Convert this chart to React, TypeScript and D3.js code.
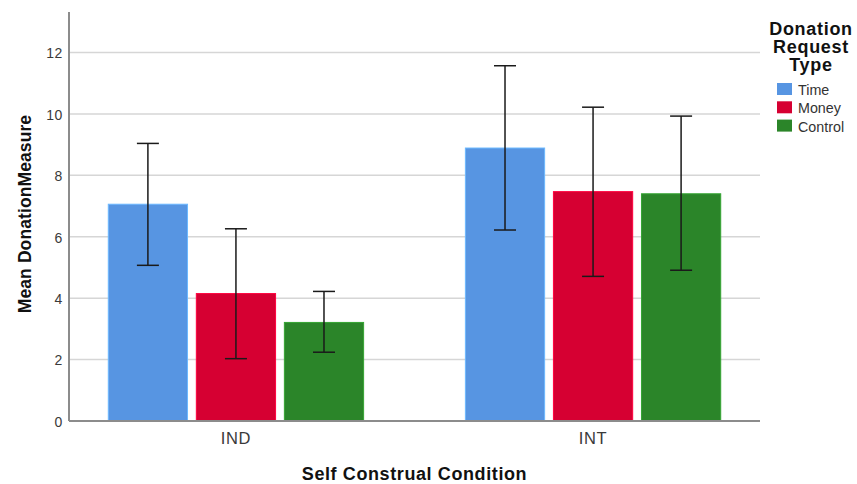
import React, { useEffect, useRef } from 'react';
import * as d3 from 'd3';

const conditions = ['IND', 'INT'];
const requestTypes = ['Time', 'Money', 'Control'];
const typeColors = ['#5795e2', '#d60032', '#2b8529'];
// mean values per condition, in requestTypes order
const meanValues = [
  [7.06, 4.15, 3.21],
  [8.89, 7.47, 7.40],
];
const errLow = [
  [5.07, 2.03, 2.24],
  [6.22, 4.71, 4.91],
];
const errHigh = [
  [9.04, 6.26, 4.22],
  [11.57, 10.22, 9.93],
];
const yTicks = [0, 2, 4, 6, 8, 10, 12];

const FONT = '"Liberation Sans", Arial, sans-serif';

export default function App() {
  const ref = useRef<SVGSVGElement | null>(null);

  useEffect(() => {
    document.body.style.margin = '0';
    if (!ref.current) return;
    const width = 857;
    const height = 484;
    const margin = { top: 12, right: 97, bottom: 63, left: 69 };
    const innerWidth = width - margin.left - margin.right;
    const innerHeight = height - margin.top - margin.bottom;

    const svg = d3.select(ref.current);
    svg.selectAll('*').remove();
    svg.attr('viewBox', `0 0 ${width} ${height}`);
    svg.append('rect').attr('width', width).attr('height', height).attr('fill', '#fff');

    const g = svg.append('g').attr('transform', `translate(${margin.left},${margin.top})`);

    const y = d3.scaleLinear().domain([0, 13.32]).range([innerHeight, 0]);
    const x0 = d3.scaleBand<string>()
      .domain(conditions)
      .range([0, innerWidth])
      .paddingInner(0.285)
      .paddingOuter(0.11);
    const x1 = d3.scaleBand<string>()
      .domain(requestTypes)
      .range([0, x0.bandwidth()])
      .paddingInner(0.1)
      .paddingOuter(0);

    // grid lines
    g.selectAll('.grid-line')
      .data(yTicks.filter(t => t > 0))
      .enter()
      .append('line')
      .attr('x1', 0)
      .attr('x2', innerWidth)
      .attr('y1', d => y(d))
      .attr('y2', d => y(d))
      .attr('stroke', '#d6d6d6')
      .attr('stroke-width', 1.5);

    // bars + error bars
    const groups = g.selectAll('.group')
      .data(conditions)
      .enter()
      .append('g')
      .attr('transform', d => `translate(${x0(d)},0)`);

    groups.each(function (cond, ci) {
      const grp = d3.select(this);
      requestTypes.forEach((t, ti) => {
        const v = meanValues[ci][ti];
        const bx = x1(t)!;
        const bw = x1.bandwidth();
        grp.append('rect')
          .attr('x', bx)
          .attr('y', y(v))
          .attr('width', bw)
          .attr('height', y(0) - y(v))
          .attr('fill', typeColors[ti])
          .attr('stroke', d3.color(typeColors[ti])!.brighter(0.6).toString())
          .attr('stroke-width', 1);
        const cx = bx + bw / 2;
        const lo = y(errLow[ci][ti]);
        const hi = y(errHigh[ci][ti]);
        const cap = 11;
        grp.append('line').attr('x1', cx).attr('x2', cx).attr('y1', lo).attr('y2', hi)
          .attr('stroke', '#1a1a1a').attr('stroke-width', 1.5);
        grp.append('line').attr('x1', cx - cap).attr('x2', cx + cap).attr('y1', lo).attr('y2', lo)
          .attr('stroke', '#1a1a1a').attr('stroke-width', 1.5);
        grp.append('line').attr('x1', cx - cap).attr('x2', cx + cap).attr('y1', hi).attr('y2', hi)
          .attr('stroke', '#1a1a1a').attr('stroke-width', 1.5);
      });
    });

    // axes
    g.append('line')
      .attr('x1', 0).attr('x2', 0).attr('y1', 0).attr('y2', innerHeight)
      .attr('stroke', '#8c8c8c').attr('stroke-width', 2);
    g.append('line')
      .attr('x1', 0).attr('x2', innerWidth).attr('y1', innerHeight).attr('y2', innerHeight)
      .attr('stroke', '#8c8c8c').attr('stroke-width', 2);

    g.selectAll('.ytick')
      .data(yTicks)
      .enter()
      .append('text')
      .attr('x', -6)
      .attr('y', d => y(d))
      .attr('dy', '0.42em')
      .attr('text-anchor', 'end')
      .attr('font-family', FONT)
      .attr('font-size', 14)
      .attr('letter-spacing', 0.6)
      .attr('fill', '#3a3a3a')
      .text(d => d);

    g.selectAll('.xtick')
      .data(conditions)
      .enter()
      .append('text')
      .attr('x', d => x0(d)! + x0.bandwidth() / 2)
      .attr('y', innerHeight + 23)
      .attr('text-anchor', 'middle')
      .attr('font-family', FONT)
      .attr('font-size', 16.5)
      .attr('letter-spacing', 0.6)
      .attr('fill', '#3a3a3a')
      .text(d => d);

    g.append('text')
      .attr('x', innerWidth / 2)
      .attr('y', innerHeight + 58.5)
      .attr('text-anchor', 'middle')
      .attr('font-family', FONT)
      .attr('font-size', 18)
      .attr('letter-spacing', 0.6)
      .attr('font-weight', 'bold')
      .attr('fill', '#111')
      .text('Self Construal Condition');

    svg.append('text')
      .attr('transform', `translate(31,214) rotate(-90)`)
      .attr('text-anchor', 'middle')
      .attr('font-family', FONT)
      .attr('font-size', 17.5)
      .attr('letter-spacing', 0.1)
      .attr('font-weight', 'bold')
      .attr('fill', '#111')
      .text('Mean DonationMeasure');

    // legend
    const legend = svg.append('g');
    ['Donation', 'Request', 'Type'].forEach((line, i) => {
      legend.append('text')
        .attr('x', 811)
        .attr('y', 34.5 + i * 18.2)
        .attr('text-anchor', 'middle')
        .attr('font-family', FONT)
        .attr('font-size', 18)
        .attr('letter-spacing', 0.7)
        .attr('font-weight', 'bold')
        .attr('fill', '#111')
        .text(line);
    });
    const item = legend.selectAll('.legend-item')
      .data(requestTypes)
      .enter()
      .append('g')
      .attr('transform', (_, i) => `translate(777,${83 + i * 18.3})`);
    item.append('rect')
      .attr('width', 15)
      .attr('height', 12)
      .attr('fill', (_, i) => typeColors[i]);
    item.append('text')
      .attr('x', 21)
      .attr('y', 12)
      .attr('font-family', FONT)
      .attr('font-size', 14.3)
      .attr('fill', '#333')
      .text(d => d);
  }, []);

  return <svg ref={ref} width={857} height={484} style={{ display: 'block' }}></svg>;
}
